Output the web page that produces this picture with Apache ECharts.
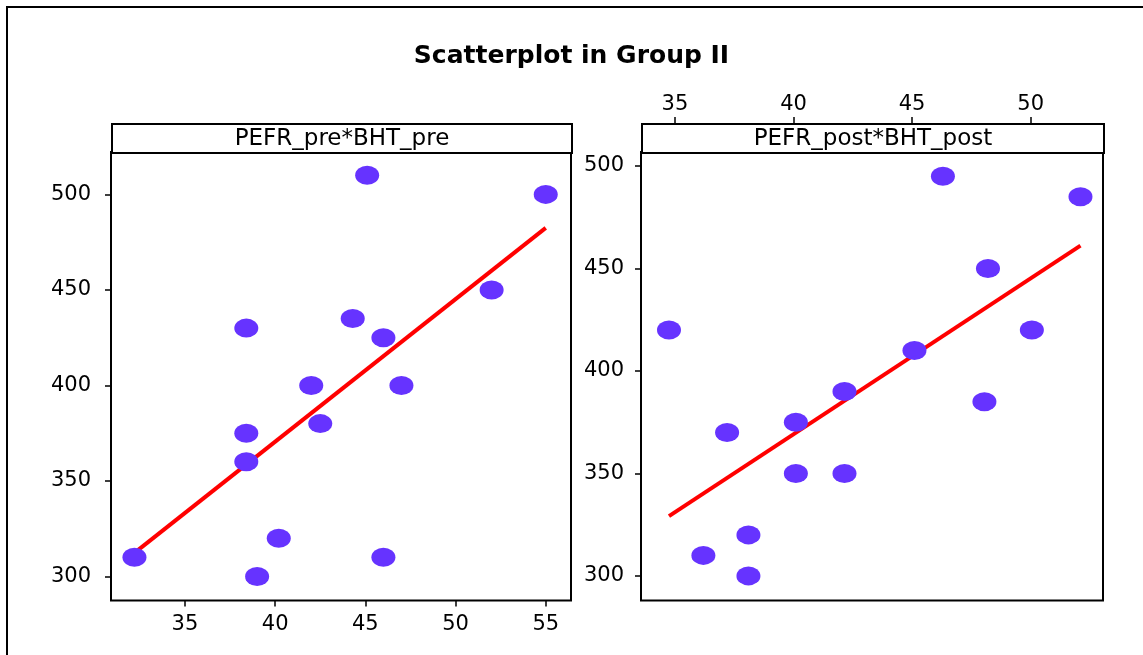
<!DOCTYPE html>
<html>
<head>
<meta charset="utf-8">
<title>Scatterplot in Group II</title>
<script src="https://cdn.jsdelivr.net/npm/echarts@6/dist/echarts.min.js"></script>
<style>
  html, body { margin: 0; padding: 0; background: #fff; }
  #chart { width: 1143px; height: 655px; }
</style>
</head>
<body>
<div id="chart"></div>
<script>
// panel 1: PEFR_pre vs BHT_pre
const bhtPre = [45.1, 55, 52, 38.4, 44.3, 46, 42, 47, 42.5, 38.4, 38.4, 40.2, 32.2, 46, 39];
const pefrPre = [510, 500, 450, 430, 435, 425, 400, 400, 380, 375, 360, 320, 310, 310, 300];
// panel 2: PEFR_post vs BHT_post
const bhtPost = [34.75, 36.2, 38.1, 38.1, 37.2, 40.1, 40.1, 42.15, 42.15, 45.1, 46.3, 48.2, 48.05, 50.05, 52.1];
const pefrPost = [420, 310, 320, 300, 370, 375, 350, 350, 390, 410, 495, 450, 385, 420, 485];

const xTicksPre = [35, 40, 45, 50, 55];
const xTicksPost = [35, 40, 45, 50];
const yTicks = [300, 350, 400, 450, 500];

const FONT = 'DejaVu Sans';
const DOT = '#6633ff';

// least squares line drawn across the range of x
function fitLine (xs, ys) {
  const n = xs.length;
  const mx = xs.reduce((a, b) => a + b, 0) / n;
  const my = ys.reduce((a, b) => a + b, 0) / n;
  let sxy = 0, sxx = 0;
  for (let i = 0; i < n; i++) {
    sxy += (xs[i] - mx) * (ys[i] - my);
    sxx += (xs[i] - mx) * (xs[i] - mx);
  }
  const slope = sxy / sxx;
  const lo = Math.min(...xs), hi = Math.max(...xs);
  return [[lo, my + slope * (lo - mx)], [hi, my + slope * (hi - mx)]];
}

function valueAxis (opts, ticks, margin) {
  return Object.assign({
    type: 'value',
    scale: true,
    splitLine: { show: false },
    axisLine: { show: false },
    axisTick: { show: true, length: 6, customValues: ticks, lineStyle: { color: '#000', width: 1.5 } },
    axisLabel: { customValues: ticks, color: '#000', fontFamily: FONT, fontSize: 21, margin: margin }
  }, opts);
}

function header (left, width, text) {
  return {
    type: 'group',
    left: left,
    top: 123,
    children: [
      { type: 'rect', shape: { x: 0, y: 0, width: width, height: 29 },
        style: { fill: '#fff', stroke: '#000', lineWidth: 2 } },
      { type: 'text', x: width / 2, y: 15,
        style: { text: text, fill: '#000', font: '23px "DejaVu Sans"', align: 'center', verticalAlign: 'middle' } }
    ]
  };
}

const chart = echarts.init(document.getElementById('chart'), null, { renderer: 'canvas' });

chart.setOption({
  animation: false,
  backgroundColor: '#fff',
  title: {
    text: 'Scatterplot in Group II',
    left: 'center',
    top: 39,
    textStyle: { fontFamily: FONT, fontSize: 25, fontWeight: 'bold', color: '#000' }
  },
  graphic: [
    { type: 'rect', shape: { x: 7, y: 7, width: 1300, height: 800 },
      style: { fill: 'none', stroke: '#000', lineWidth: 2 }, silent: true },
    header(111, 460, 'PEFR_pre*BHT_pre'),
    header(641, 462, 'PEFR_post*BHT_post')
  ],
  grid: [
    { left: 111, top: 152, width: 460, height: 448.5, show: true, borderColor: '#000', borderWidth: 2, backgroundColor: 'transparent' },
    { left: 641, top: 152, width: 462, height: 448.5, show: true, borderColor: '#000', borderWidth: 2, backgroundColor: 'transparent' }
  ],
  xAxis: [
    valueAxis({ gridIndex: 0, position: 'bottom', min: 30.9, max: 56.4 }, xTicksPre, 14),
    valueAxis({ gridIndex: 1, position: 'top', offset: 29, min: 33.57, max: 53.05 }, xTicksPost, 8)
  ],
  yAxis: [
    valueAxis({ gridIndex: 0, position: 'left', min: 287.4, max: 522.2 }, yTicks, 20),
    valueAxis({ gridIndex: 1, position: 'left', min: 288, max: 506.8 }, yTicks, 17)
  ],
  series: [
    {
      type: 'line', xAxisIndex: 0, yAxisIndex: 0,
      data: fitLine(bhtPre, pefrPre),
      showSymbol: false, lineStyle: { color: '#ff0000', width: 4 }, z: 2
    },
    {
      type: 'scatter', xAxisIndex: 0, yAxisIndex: 0,
      data: bhtPre.map((x, i) => [x, pefrPre[i]]),
      symbol: 'circle', symbolSize: [24, 19], itemStyle: { color: DOT, opacity: 1 }, z: 3
    },
    {
      type: 'line', xAxisIndex: 1, yAxisIndex: 1,
      data: fitLine(bhtPost, pefrPost),
      showSymbol: false, lineStyle: { color: '#ff0000', width: 4 }, z: 2
    },
    {
      type: 'scatter', xAxisIndex: 1, yAxisIndex: 1,
      data: bhtPost.map((x, i) => [x, pefrPost[i]]),
      symbol: 'circle', symbolSize: [24, 19], itemStyle: { color: DOT, opacity: 1 }, z: 3
    }
  ]
});
</script>
</body>
</html>
